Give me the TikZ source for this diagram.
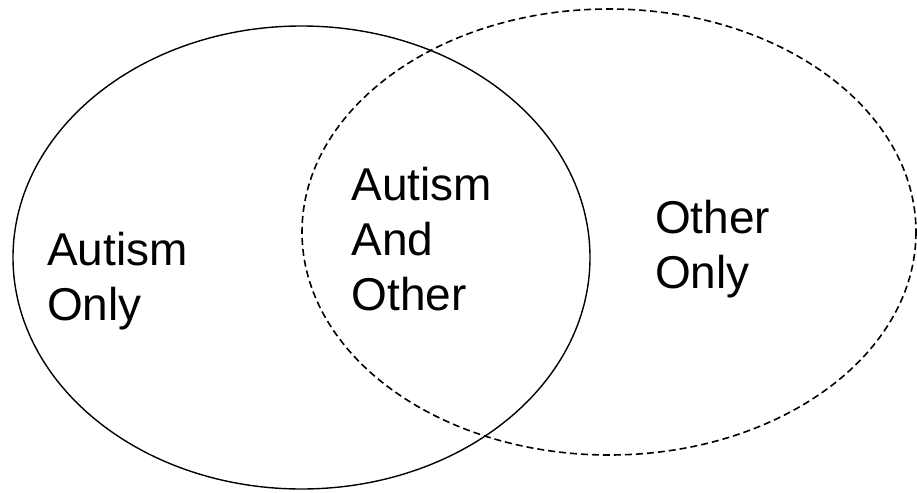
\documentclass[tikz,border=0pt]{standalone}
\usepackage{fontspec}
\setmainfont{Liberation Sans}
\usetikzlibrary{calc}

\begin{document}
\begin{tikzpicture}[x=1pt,y=-1pt,
  setline/.style={line width=1.4pt,color=black},
  otherline/.style={line width=1.6pt,color=black,dash pattern=on 7pt off 4pt},
  setlabel/.style={inner sep=0pt,align=left,anchor=base west,
    font=\fontsize{46}{55}\selectfont}]
\useasboundingbox (0,0) rectangle (917,492);

% The two sets.
\draw[setline] (301.5,257.5) ellipse [x radius=288.5,y radius=231.5];
\draw[otherline] (609,232) ellipse [x radius=307,y radius=223];

% Labels of the three regions (base is the last line).
\node[setlabel] (autism) at (47,320) {Autism\\Only};
\node[setlabel] (both) at (351.5,310) {Autism\\And\\Other};
\node[setlabel] (other) at (655,288) {Other\\Only};

\end{tikzpicture}
\end{document}
